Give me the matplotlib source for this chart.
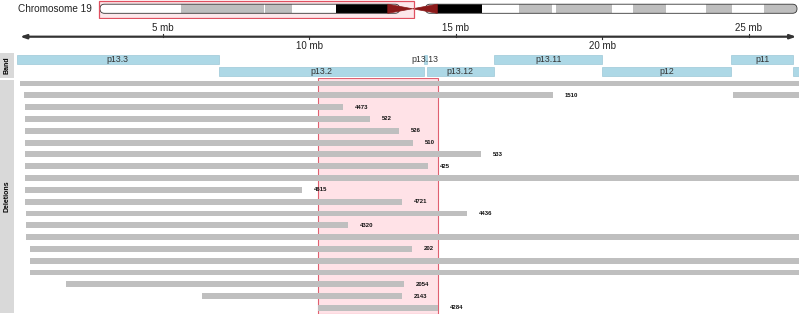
import matplotlib
matplotlib.use("Agg")
import matplotlib.pyplot as plt
from matplotlib.patches import Rectangle, FancyBboxPatch, Polygon

plt.rcParams['font.family'] = ['Liberation Sans', 'DejaVu Sans']

W, H = 799, 314

# chromosome 19 ideogram bands (mb)
ideo_start = [0.0, 6.9, 13.9, 14.0, 16.3, 20.0, 28.6, 32.4, 35.5, 38.3, 38.7, 43.4, 45.2, 48.0, 51.4, 53.6, 56.3]
ideo_end = [6.9, 13.9, 14.0, 16.3, 20.0, 24.4, 32.4, 35.5, 38.3, 38.7, 43.4, 45.2, 48.0, 51.4, 53.6, 56.3, 59.1]
ideo_stain = ['gneg', 'gpos25', 'gneg', 'gpos25', 'gneg', 'gvar', 'gvar', 'gneg', 'gpos25', 'gneg',
              'gpos25', 'gneg', 'gpos25', 'gneg', 'gpos25', 'gneg', 'gpos25']
cen_start, cen_mid, cen_end = 24.4, 26.5, 28.6
chrom_len = 59.1

# band track (visible region)
band_name = ['p13.3', 'p13.2', 'p13.13', 'p13.12', 'p13.11', 'p12', 'p11', 'q11']
band_start = [0.0, 6.9, 13.9, 14.0, 16.3, 20.0, 24.4, 26.5]
band_end = [6.9, 13.9, 14.0, 16.3, 20.0, 24.4, 26.5, 28.6]
band_row = [0, 1, 0, 1, 0, 1, 0, 1]

# deletions (mb)
del_start = [0.12, 0.26, 0.29, 0.29, 0.29, 0.29, 0.29, 0.29, 0.29, 0.29,
             0.29, 0.32, 0.32, 0.32, 0.46, 0.46, 0.46, 1.69, 6.33, 10.29]
del_end = [27.0, 18.31, 11.14, 12.07, 13.05, 13.53, 15.85, 14.04, 27.0, 9.74,
           13.16, 15.37, 11.31, 27.0, 13.50, 27.0, 27.0, 13.23, 13.16, 14.39]
del_label = ['', '1510', '4473', '522', '526', '510', '533', '425', '', '4615',
             '4721', '4436', '4320', '', '202', '', '', '2054', '2143', '4284']
extra_row = [1]
extra_start = [24.45]
extra_end = [27.0]

view_start, view_end = 0.0, 26.71
hl_start, hl_end = 10.29, 14.39
ruler_ticks = [5, 10, 15, 20, 25]

fig = plt.figure(figsize=(W / 100, H / 100), dpi=100)


def px_axes(x0, y0, x1, y1):
    ax = fig.add_axes([x0 / W, 1 - y1 / H, (x1 - x0) / W, (y1 - y0) / H])
    ax.set_axis_off()
    return ax


# ---- ideogram ----
ax_i = px_axes(95, 0, 799, 19)
ppm = (797 - 100) / chrom_len
ax_i.set_xlim(-5 / ppm, (799 - 100) / ppm)
ax_i.set_ylim(19, 0)
y0, y1 = 4.2, 13.3
stain_col = {'gneg': 'white', 'gpos25': '#bebebe', 'gvar': 'black'}
rad = 4.5 / ppm
# highlighted view box (fill behind the ideogram)
ax_i.add_patch(Rectangle((view_start - 0.05, 0.6), view_end - view_start, 17.6,
                         facecolor='#fde8eb', edgecolor='none', zorder=0))
p_clip = FancyBboxPatch((0, y0), cen_start + 1, y1 - y0, boxstyle=f"round,pad=0,rounding_size={rad}",
                        mutation_aspect=ppm, facecolor='none', edgecolor='none')
q_clip = FancyBboxPatch((cen_end - 1, y0), chrom_len - cen_end + 1, y1 - y0,
                        boxstyle=f"round,pad=0,rounding_size={rad}",
                        mutation_aspect=ppm, facecolor='none', edgecolor='none')
ax_i.add_patch(p_clip)
ax_i.add_patch(q_clip)
for s, e, st in zip(ideo_start, ideo_end, ideo_stain):
    r = Rectangle((s, y0), e - s, y1 - y0, facecolor=stain_col[st], edgecolor='none', zorder=1)
    ax_i.add_patch(r)
    r.set_clip_path(p_clip if e <= cen_start else q_clip)
# outlines
ax_i.add_patch(FancyBboxPatch((0, y0), cen_start + 1, y1 - y0, boxstyle=f"round,pad=0,rounding_size={rad}",
                              mutation_aspect=ppm, facecolor='none', edgecolor='#333333', lw=0.6, zorder=2))
ax_i.add_patch(FancyBboxPatch((cen_end - 1, y0), chrom_len - cen_end + 1, y1 - y0,
                              boxstyle=f"round,pad=0,rounding_size={rad}",
                              mutation_aspect=ppm, facecolor='none', edgecolor='#333333', lw=0.6, zorder=2))
ym = (y0 + y1) / 2
ax_i.add_patch(Polygon([(cen_start, y0), (cen_mid, ym), (cen_start, y1)], closed=True,
                       facecolor='#8b1a1a', edgecolor='#8b1a1a', lw=0.5, zorder=3))
ax_i.add_patch(Polygon([(cen_end, y0), (cen_mid, ym), (cen_end, y1)], closed=True,
                       facecolor='#8b1a1a', edgecolor='#8b1a1a', lw=0.5, zorder=3))
ax_i.add_patch(Rectangle((view_start - 0.05, 0.6), view_end - view_start, 17.6,
                         facecolor='none', edgecolor='#e05060', lw=0.9, zorder=4))
fig.text(18 / W, 1 - 9.5 / H, 'Chromosome 19', fontsize=7.2, va='center', ha='left', color='#222222')

# ---- ruler ----
ax_r = px_axes(16.5, 19, 799, 52)
ax_r.set_xlim(view_start, view_end)
ax_r.set_ylim(33, 0)
ly = 36.7 - 19
ax_r.annotate('', xy=(26.62, ly), xytext=(0.12, ly),
              arrowprops=dict(arrowstyle='<|-|>,head_length=0.35,head_width=0.12',
                              color='#333333', lw=1.6, shrinkA=0, shrinkB=0))
for i, t in enumerate(ruler_ticks):
    up = i % 2 == 0
    ax_r.plot([t, t], [ly, ly - 2.5 if up else ly + 2.5], color='#333333', lw=0.8)
    ax_r.text(t, ly - 4 if up else ly + 4, f'{t} mb', ha='center',
              va='bottom' if up else 'top', fontsize=7, color='#222222')

# ---- band track ----
ax_b = px_axes(16.5, 52, 799, 78)
ax_b.set_xlim(view_start, view_end)
ax_b.set_ylim(1.54, -0.625)
for n, s, e, rw in zip(band_name, band_start, band_end, band_row):
    ax_b.add_patch(Rectangle((s, rw - 0.375), e - s, 0.75, facecolor='#add8e6',
                             edgecolor='#9cc8d8', lw=0.5))
    if (s + e) / 2 < view_end:
        ax_b.text((s + e) / 2, rw, n, ha='center', va='center', fontsize=6.3, color='#333333')

# ---- deletions ----
ax_d = px_axes(16.5, 77.5, 799, 314)
ax_d.set_xlim(view_start, view_end)
ax_d.set_ylim(19.51, -0.51)
ax_d.axvspan(hl_start, hl_end, facecolor='#ffe2e7', edgecolor='#e06070', lw=0.8, zorder=0)
rows = list(range(len(del_start)))
ax_d.barh(rows, [e - s for s, e in zip(del_start, del_end)], left=del_start, height=0.5,
          color='#bfbfbf', zorder=2)
ax_d.barh(extra_row, [e - s for s, e in zip(extra_start, extra_end)], left=extra_start,
          height=0.5, color='#bfbfbf', zorder=2)
for r, e, lab in zip(rows, del_end, del_label):
    if lab:
        ax_d.annotate(lab, (e, r), xytext=(8.5, 0), textcoords='offset points',
                      ha='left', va='center', fontsize=4.3, fontweight='bold', color='#111111')

# ---- left strip labels ----
ax_s = px_axes(0, 0, W, H)
ax_s.set_xlim(0, W)
ax_s.set_ylim(H, 0)
ax_s.add_patch(Rectangle((0, 52.5), 14, 25, facecolor='#d9d9d9', edgecolor='none'))
ax_s.add_patch(Rectangle((0, 80), 14, 233, facecolor='#d9d9d9', edgecolor='none'))
ax_s.text(7, 65, 'Band', rotation=90, ha='center', va='center', fontsize=5, fontweight='bold')
ax_s.text(7, 196, 'Deletions', rotation=90, ha='center', va='center', fontsize=5, fontweight='bold')

fig.savefig('out.png', dpi=100)
